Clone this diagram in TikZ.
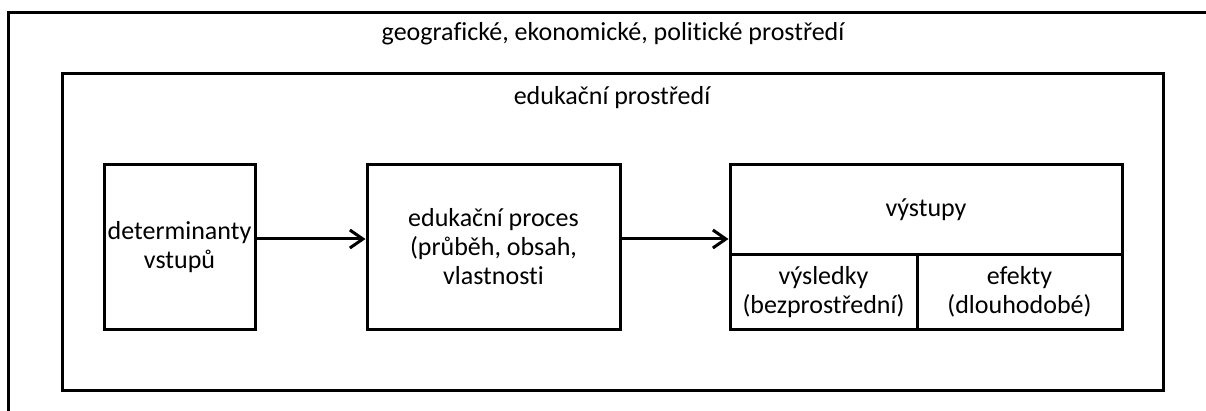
\documentclass[tikz,border=0pt]{standalone}
\usepackage{fontspec}
\setmainfont{Carlito}[Ligatures=NoCommon]
\usetikzlibrary{arrows.meta}
\begin{document}
\begin{tikzpicture}[x=1pt,y=-1pt,
  frame/.style={line width=3pt},
  box/.style={draw,line width=3pt,rectangle,inner sep=0pt,align=center,
    font=\fontsize{26}{29}\selectfont},
  lbl/.style={inner sep=0pt,font=\fontsize{26}{29}\selectfont},
  arr/.style={line width=3pt,-{Straight Barb[length=13pt,width=18pt,line width=3pt]}}]
\useasboundingbox (0,0) rectangle (1206,411);
% outer environment (open on right and bottom)
\coordinate (otl) at (8,13);
\coordinate (otr) at (1210,13);
\coordinate (obl) at (8,415);
\draw[frame] (obl) -- (otl) -- (otr);
\node[lbl] (geo) at (613,34) {geografické, ekonomické, politické prostředí};
% educational environment
\node[draw,line width=3pt,rectangle,inner sep=0pt,minimum width=1101pt,minimum height=316pt] (edu) at (612.5,232) {};
\node[lbl] (edulbl) at (612,98) {edukační prostředí};
% boxes
\node[box,minimum width=151pt,minimum height=164pt] (det) at (179.5,247) {determinanty\\vstupů};
\node[box,minimum width=253pt,minimum height=164pt] (proc) at (493.5,247) {edukační proces\\(průběh, obsah,\\vlastnosti};
\node[box,minimum width=392pt,minimum height=164pt] (vyst) at (926,247) {};
\node[box,minimum width=392pt,minimum height=90pt] (vtop) at (926,210) {výstupy};
\node[box,minimum width=187pt,minimum height=74pt] (vysl) at (823.5,292) {výsledky\\(bezprostřední)};
\node[box,minimum width=205pt,minimum height=74pt] (efe) at (1019.5,292) {efekty\\(dlouhodobé)};
% arrows
\draw[arr] ([yshift=8pt]det.east) -- ([yshift=8pt]proc.west);
\draw[arr] ([yshift=8pt]proc.east) -- ([yshift=8pt]proc.east -| vyst.west);
\end{tikzpicture}
\end{document}
